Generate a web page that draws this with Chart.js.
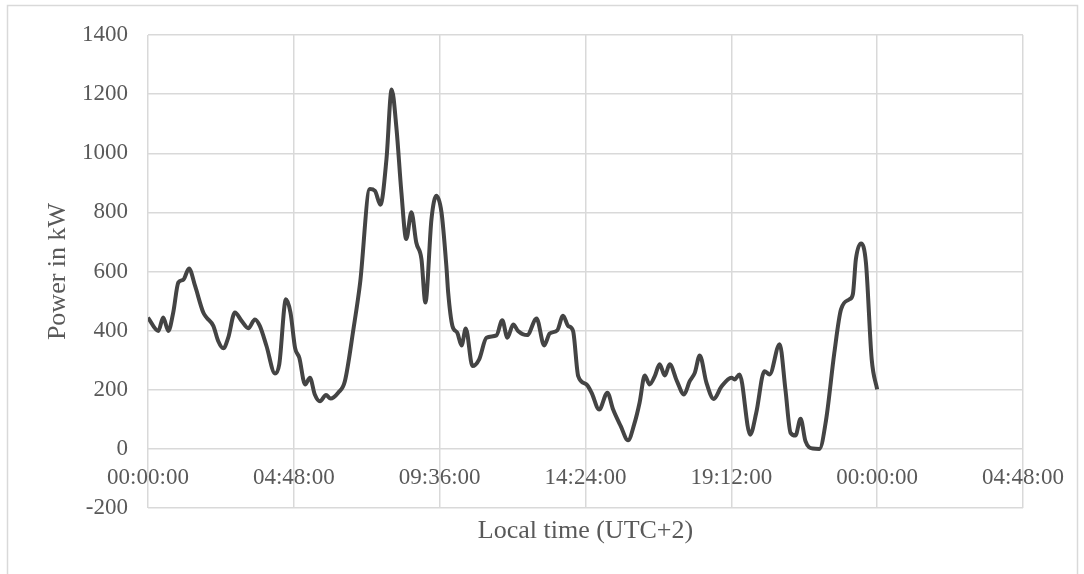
<!DOCTYPE html>
<html>
<head>
<meta charset="utf-8">
<title>Power in kW over the day</title>
<script src="https://cdn.jsdelivr.net/npm/chart.js@4"></script>
<style>
  html, body { margin: 0; padding: 0; background: #ffffff; }
  #wrap { width: 1084px; height: 574px; }
</style>
</head>
<body>
<div id="wrap"><canvas id="chart" width="1084" height="574"></canvas></div>
<script>
// Load profile: hour of day (local time) and power drawn in kW
const hours = [
  0, 0.34, 0.5, 0.67, 0.83, 1.0, 1.16, 1.35, 1.55, 1.82, 1.93, 2.15, 2.31, 2.48, 2.64, 2.86,
  3.08, 3.3, 3.52, 3.68, 3.9, 4.18, 4.32, 4.54, 4.69, 4.84, 4.98, 5.17, 5.33, 5.49, 5.66, 5.86,
  6.01, 6.26, 6.48, 6.76, 6.98, 7.3, 7.47, 7.65, 7.85, 8.02, 8.18, 8.34, 8.5, 8.67, 8.83,
  9.0, 9.13, 9.33, 9.49, 9.66, 9.82, 9.88, 10.02, 10.18, 10.32, 10.46, 10.68, 10.9, 11.14, 11.47,
  11.66, 11.83, 12.02, 12.18, 12.48, 12.79, 13.04, 13.22, 13.47, 13.66, 13.83, 13.99, 14.16,
  14.43, 14.6, 14.85, 15.12, 15.31, 15.56, 15.8, 16.0, 16.18, 16.35, 16.51, 16.68, 16.84, 17.01,
  17.17, 17.41, 17.64, 17.83, 18.0, 18.16, 18.38, 18.62, 18.87, 19.2, 19.31, 19.47, 19.82, 20.02,
  20.29, 20.46, 20.79, 20.98, 21.15, 21.31, 21.48, 21.64, 21.88, 22.1, 22.32, 22.59, 22.81,
  23.09, 23.2, 23.3, 23.47, 23.63, 23.82, 24.0
];
const powerKW = [
  444, 399, 444, 399, 461, 563, 572, 610, 551, 461, 444, 416, 365, 340, 376, 461,
  433, 408, 438, 416, 348, 255, 286, 506, 461, 342, 308, 218, 241, 184, 161, 182,
  170, 190, 229, 404, 560, 879, 873, 826, 981, 1216, 1082, 868, 710, 800, 698,
  642, 495, 777, 856, 800, 619, 529, 416, 393, 350, 407, 280, 303, 376, 384,
  435, 376, 421, 399, 385, 441, 350, 390, 401, 450, 416, 399, 246,
  218, 190, 133, 190, 133, 77, 29, 82, 156, 248, 218, 246, 286, 248,
  286, 229, 184, 229, 258, 316, 224, 169, 210, 241, 235, 252, 48, 122,
  263, 252, 354, 201, 54, 45, 102, 26, 1, 0, 99, 325, 472,
  506, 523, 642, 695, 630, 303, 201
];

// Axis ticks: every 4 h 48 min on x, every 200 kW on y
const xTickHours = [0, 4.8, 9.6, 14.4, 19.2, 24, 28.8];
const xTickLabels = ['00:00:00', '04:48:00', '09:36:00', '14:24:00', '19:12:00', '00:00:00', '04:48:00'];
const yMin = -200, yMax = 1400, yStep = 200;

const xTitle = 'Local time (UTC+2)';
const yTitle = 'Power in kW';

const FONT = '"Liberation Serif", "Times New Roman", serif';
const TEXT_GREY = '#595959';
const GRID_GREY = '#d9d9d9';

// White background, outer frame and the x-axis title under the plot
const frameAndTitle = {
  id: 'frameAndTitle',
  beforeDraw(chart) {
    const { ctx, width, height } = chart;
    ctx.save();
    ctx.fillStyle = '#ffffff';
    ctx.fillRect(0, 0, width, height);
    ctx.strokeStyle = GRID_GREY;
    ctx.lineWidth = 1.5;
    ctx.strokeRect(7.5, 5.5, 1070, height + 10);
    ctx.restore();
  },
  afterDraw(chart) {
    const { ctx, chartArea } = chart;
    ctx.save();
    ctx.font = '26px ' + FONT;
    ctx.fillStyle = TEXT_GREY;
    ctx.textAlign = 'center';
    ctx.textBaseline = 'middle';
    ctx.fillText(xTitle, (chartArea.left + chartArea.right) / 2, 531);
    ctx.restore();
  }
};

new Chart(document.getElementById('chart'), {
  type: 'line',
  data: {
    datasets: [{
      data: hours.map((h, i) => ({ x: h, y: powerKW[i] })),
      borderColor: '#444444',
      borderWidth: 4,
      pointRadius: 0,
      fill: false,
      cubicInterpolationMode: 'monotone'
    }]
  },
  options: {
    responsive: false,
    animation: false,
    layout: { padding: { left: 0, right: 61, top: 35, bottom: 66 } },
    plugins: { legend: { display: false }, tooltip: { enabled: false } },
    scales: {
      x: {
        type: 'linear',
        position: { y: 0 },
        min: 0,
        max: 28.8,
        afterBuildTicks: s => { s.ticks = xTickHours.map(v => ({ value: v })); },
        afterFit: s => { s.paddingLeft = 0; s.paddingRight = 0; },
        border: { display: false },
        grid: { color: GRID_GREY, lineWidth: 1.5, drawTicks: false, tickLength: 0 },
        ticks: {
          autoSkip: false,
          maxRotation: 0,
          padding: 15,
          color: TEXT_GREY,
          font: { family: FONT, size: 23 },
          callback: (v, i) => xTickLabels[i]
        }
      },
      y: {
        min: yMin,
        max: yMax,
        afterFit: s => { s.width = 148; s.paddingTop = 0; s.paddingBottom = 0; },
        border: { display: false },
        grid: { color: GRID_GREY, lineWidth: 1.5, drawTicks: false, tickLength: 0 },
        ticks: {
          stepSize: yStep,
          padding: 20,
          color: TEXT_GREY,
          font: { family: FONT, size: 23 },
          callback: v => String(v)
        },
        title: {
          display: true,
          text: yTitle,
          color: TEXT_GREY,
          font: { family: FONT, size: 26 },
          padding: { top: 43, bottom: 0 }
        }
      }
    }
  },
  plugins: [frameAndTitle]
});
</script>
</body>
</html>
